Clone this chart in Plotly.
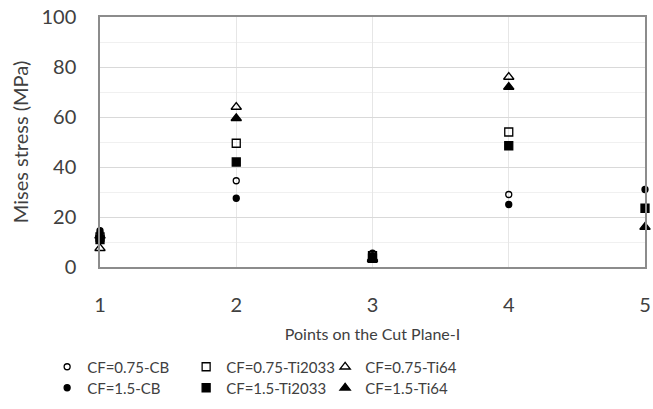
import plotly.graph_objects as go

# Points on the cut plane
points = [1, 2, 3, 4, 5]

# Mises stress (MPa) per configuration
cf075_cb = [13.5, 34.5, 5.5, 29.0, None]
cf075_ti2033 = [12.0, 49.5, 4.5, 54.0, None]
cf075_ti64 = [7.5, 64.0, 3.5, 76.0, None]
cf15_cb = [14.5, 27.5, 4.5, 25.0, 31.0]
cf15_ti2033 = [11.0, 42.0, 3.5, 48.5, 23.5]
cf15_ti64 = [12.5, 59.5, 3.0, 72.0, 16.0]

series = [
    ("CF=0.75-CB", cf075_cb, "circle-open", 6, "legend"),
    ("CF=0.75-Ti2033", cf075_ti2033, "square-open", 8, "legend"),
    ("CF=0.75-Ti64", cf075_ti64, "triangle-up-open", 9, "legend"),
    ("CF=1.5-CB", cf15_cb, "circle", 6, "legend2"),
    ("CF=1.5-Ti2033", cf15_ti2033, "square", 8, "legend2"),
    ("CF=1.5-Ti64", cf15_ti64, "triangle-up", 9, "legend2"),
]

fig = go.Figure()
for name, vals, sym, size, leg in series:
    fig.add_trace(go.Scatter(
        x=points, y=vals, name=name, mode="markers",
        marker=dict(symbol=sym, size=size, color="#000000",
                    line=dict(color="#000000", width=1.3)),
        cliponaxis=False, legend=leg,
    ))

font_family = "Lato, Open Sans, sans-serif"
text_color = "#404040"

legend_common = dict(
    orientation="h", xanchor="left", yanchor="middle",
    entrywidth=94, entrywidthmode="pixels", itemwidth=30,
    font=dict(family=font_family, size=15, color=text_color),
    bgcolor="rgba(0,0,0,0)", tracegroupgap=0,
)

fig.update_layout(
    width=653, height=409,
    margin=dict(l=100, r=8, t=17, b=142, autoexpand=False),
    plot_bgcolor="#ffffff", paper_bgcolor="#ffffff",
    font=dict(family=font_family, color=text_color),
    showlegend=True,
    legend=dict(x=-0.097, y=-0.40, **legend_common),
    legend2=dict(x=-0.097, y=-0.484, **legend_common),
    xaxis=dict(
        range=[1, 5], dtick=1, tick0=1,
        showgrid=True, gridcolor="#e6e6e6", gridwidth=1,
        showline=True, linecolor="#8c8c8c", linewidth=1.5, mirror=True,
        ticks="", ticklabelstandoff=19,
        tickfont=dict(size=20, color=text_color),
        title=dict(text="Points on the Cut Plane-I", standoff=14,
                   font=dict(size=16, color=text_color)),
        zeroline=False,
    ),
    yaxis=dict(
        range=[0, 100], dtick=20,
        showgrid=True, gridcolor="#d9d9d9", gridwidth=1,
        minor=dict(dtick=10, showgrid=True, gridcolor="#f0f0f0", gridwidth=1),
        showline=True, linecolor="#8c8c8c", linewidth=1.5, mirror=True,
        ticks="", ticklabelstandoff=18,
        tickfont=dict(size=20, color=text_color),
        title=dict(text="Mises stress (MPa)", standoff=7,
                   font=dict(size=20, color=text_color)),
        zeroline=False,
    ),
)

fig.write_html("out.html")
